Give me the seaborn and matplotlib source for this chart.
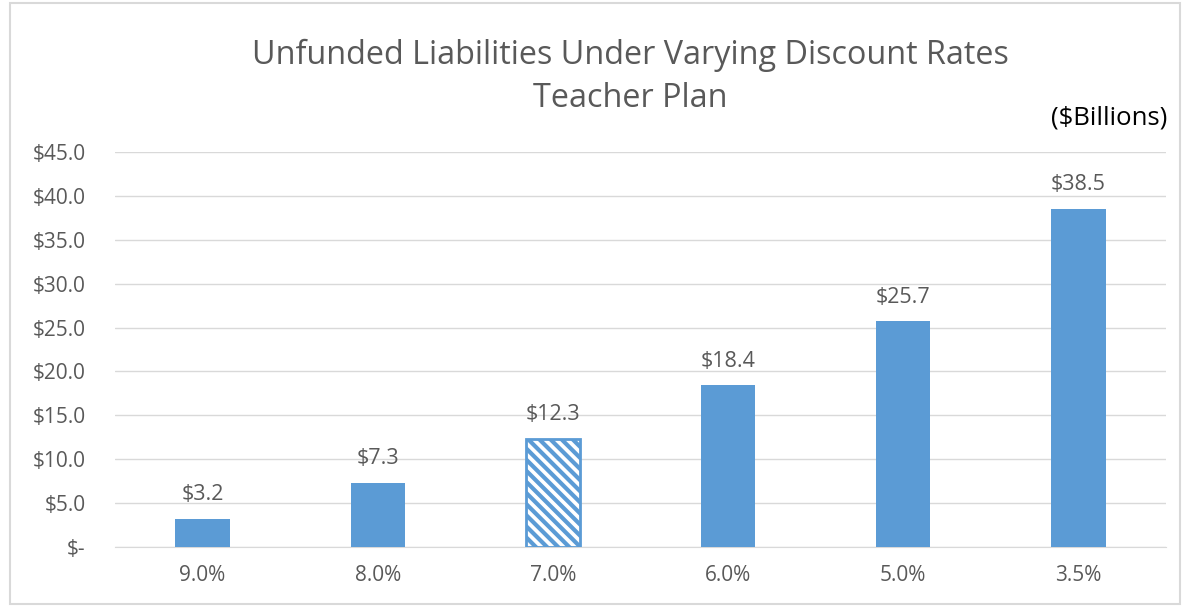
import pandas as pd
import matplotlib.pyplot as plt
import seaborn as sns

# dados do gráfico
rates = ['9.0%', '8.0%', '7.0%', '6.0%', '5.0%', '3.5%']
liabilities = [3.2, 7.3, 12.3, 18.4, 25.7, 38.5]
y_ticks = [0, 5, 10, 15, 20, 25, 30, 35, 40, 45]
hatched_rate = '7.0%'

df = pd.DataFrame({'rate': rates, 'value': liabilities})

sns.set_style('white')
plt.rcParams['font.family'] = ['Open Sans', 'DejaVu Sans']
plt.rcParams['hatch.linewidth'] = 3.0
plt.rcParams['hatch.color'] = '#5B9BD5'

blue = '#5B9BD5'
gray = '#595959'

fig = plt.figure(figsize=(11.9, 6.07), dpi=100)
ax = fig.add_axes([115 / 1190, 1 - 547 / 607, 1051 / 1190, 395 / 607])

sns.barplot(x='rate', y='value', data=df, color=blue, width=0.31,
            saturation=1, ax=ax, zorder=3)

for patch, rate in zip(ax.patches, rates):
    patch.set_edgecolor(blue)
    if rate == hatched_rate:
        patch.set_facecolor('white')
        patch.set_hatch('\\\\\\')
        patch.set_linewidth(2)
    else:
        patch.set_linewidth(0)

labels = ['$%.1f' % v for v in liabilities]
ax.bar_label(ax.containers[0], labels=labels, padding=10, fontsize=15.5, color=gray)

ax.set_ylim(0, 45)
ax.set_xlim(-0.5, len(rates) - 0.5)
ax.set_yticks(y_ticks)
ax.set_yticklabels(['$-' if t == 0 else '$%.1f' % t for t in y_ticks])
ax.yaxis.grid(True, color='#D9D9D9', linewidth=1, zorder=0)
ax.set_axisbelow(True)
for s in ['top', 'right', 'left']:
    ax.spines[s].set_visible(False)
ax.spines['bottom'].set_color('#D9D9D9')
ax.tick_params(axis='both', length=0, labelsize=15, colors=gray)
ax.tick_params(axis='y', pad=21)
ax.tick_params(axis='x', pad=13)
ax.set_xlabel('')
ax.set_ylabel('')

fig.text(0.53, 0.908, 'Unfunded Liabilities Under Varying Discount Rates',
         ha='center', va='center', fontsize=23.3, color=gray)
fig.text(0.53, 0.837, 'Teacher Plan', ha='center', va='center',
         fontsize=23.3, color=gray)
fig.text(0.981, 0.805, '($Billions)', ha='right', va='center', fontsize=18.5,
         color='black')

# moldura do gráfico
frame = plt.Rectangle((0.008, 0.005), 0.984, 0.99, transform=fig.transFigure,
                      fill=False, edgecolor='#D9D9D9', linewidth=1.5)
fig.patches.append(frame)

plt.savefig('out.png', dpi=100)
